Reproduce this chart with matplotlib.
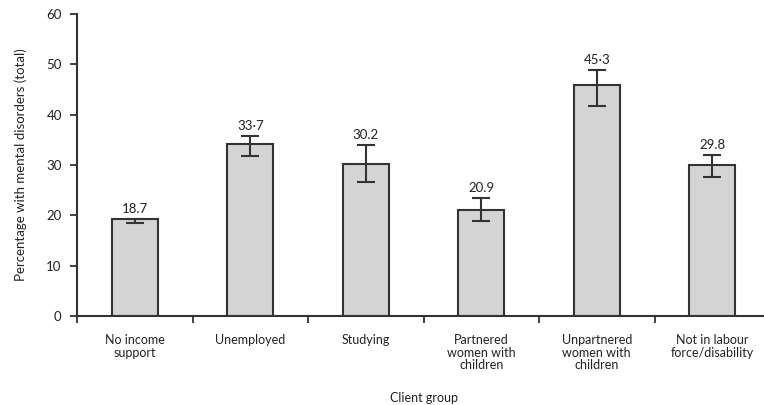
import matplotlib
matplotlib.use("Agg")
import matplotlib.pyplot as plt
import numpy as np

categories = ["No income\nsupport", "Unemployed", "Studying",
              "Partnered\nwomen with\nchildren", "Unpartnered\nwomen with\nchildren",
              "Not in labour\nforce/disability"]
bar_values = [19.2, 34.2, 30.1, 21.0, 45.8, 30.0]
err_low = [18.5, 31.7, 26.7, 18.9, 41.7, 27.6]
err_high = [19.3, 35.8, 33.9, 23.4, 48.9, 32.0]
value_labels = ["18.7", "33·7", "30.2", "20.9", "45·3", "29.8"]
yticks = [0, 10, 20, 30, 40, 50, 60]

plt.rcParams['font.family'] = ['Lato', 'DejaVu Sans']

fig = plt.figure(figsize=(7.64, 4.05), dpi=100)
ax = fig.add_axes([77/764, 89/405, 693/764, 302/405])

x = np.arange(len(categories))
vals = np.array(bar_values)
elo = np.array(err_low)
ehi = np.array(err_high)
mid = (elo + ehi) / 2
half = (ehi - elo) / 2
ax.bar(x, vals, width=0.4, color="#d4d4d4", edgecolor="#333333", linewidth=1.5, zorder=2)
ax.errorbar(x, mid, yerr=half, fmt="none", ecolor="#333333", elinewidth=1.5,
            capsize=6.5, capthick=1.5, zorder=3)
for xi, top, lab in zip(x, err_high, value_labels):
    ax.annotate(lab, (xi, top), xytext=(0, 3), textcoords="offset points",
                ha="center", va="bottom", fontsize=9.5, color="#222222")

ax.set_xlim(-0.5, len(categories) - 0.5)
ax.set_ylim(0, 60)
ax.set_yticks(yticks)
ax.set_yticklabels([str(t) for t in yticks], fontsize=9.5, color="#222222")
ax.set_xticks(np.arange(len(categories) + 1) - 0.5)
ax.set_xticklabels([])
ax.set_xticks(x, minor=True)
ax.set_xticklabels(categories, minor=True, fontsize=9, color="#222222", linespacing=1.05)
ax.tick_params(axis="x", which="minor", length=0, pad=13)
ax.tick_params(axis="x", which="major", length=5, width=1.3, color="#333333", direction="out")
ax.tick_params(axis="y", length=5, width=1.3, color="#333333", direction="out", pad=6)

for s in ["top", "right"]:
    ax.spines[s].set_visible(False)
for s in ["left", "bottom"]:
    ax.spines[s].set_linewidth(1.5)
    ax.spines[s].set_color("#333333")

ax.set_ylabel("Percentage with mental disorders (total)", fontsize=9.5, color="#222222", labelpad=14)
ax.set_xlabel("Client group", fontsize=9, color="#222222", labelpad=15)

fig.savefig("out.png", dpi=100)
